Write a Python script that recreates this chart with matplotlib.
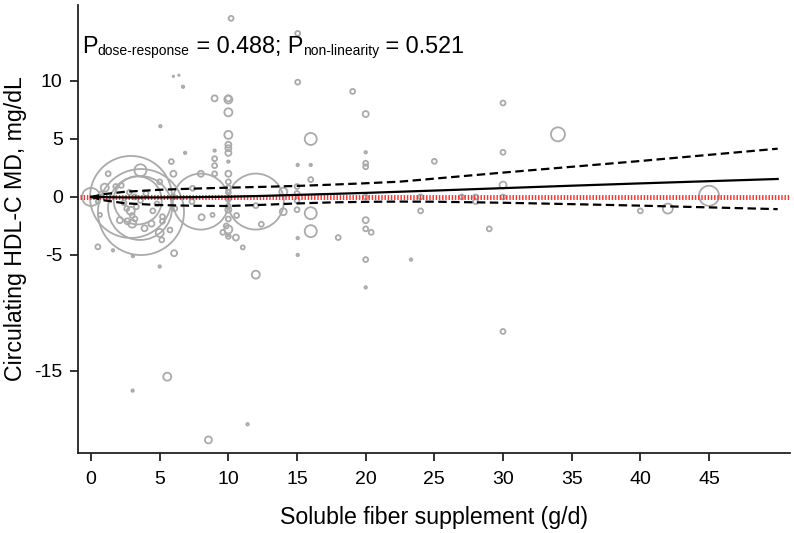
import numpy as np
import matplotlib
matplotlib.use("Agg")
import matplotlib.pyplot as plt
from matplotlib.transforms import offset_copy

plt.rcParams['font.family'] = ['Liberation Sans', 'DejaVu Sans']

# ---------------- data ----------------
# study-level points: dose (g/d), mean difference (mg/dL), relative weight
study_dose = [0, 2.91, 3.64, 3.57, 3.4, 8.0, 12.0,
              3.6, 1.0, 16.0, 16.0, 16.0, 34.0, 45.0, 42.0, 12.0, 5.55, 8.55,
              10.0, 10.0, 10.0, 10.0, 14.0, 14.0, 30.0, 10.0, 3.0, 2.9, 5.0,
              10.2, 15.05, 15.05, 19.05, 20.0, 9.0, 6.0, 8.0, 1.25, 5.85, 0.5,
              6.05, 8.05, 7.35, 9.6, 10.55, 10.0, 12.4, 12.0, 15.0, 15.0, 15.0,
              15.0, 16.0, 18.0, 20.0, 20.0, 20.0, 20.0, 20.0, 20.4, 20.0, 24.0,
              24.0, 25.0, 27.0, 28.0, 28.0, 29.0, 30.0, 30.0, 30.0, 30.0, 40.0,
              10.0, 10.0, 10.0, 10.0, 10.0, 10.0, 10.0, 10.0, 10.0, 10.0, 10.0,
              9.0, 9.0, 9.0, 8.85, 6.1, 5.2, 5.2, 5.75, 5.15, 5.0, 2.1, 2.65,
              3.9, 2.6, 3.3, 0.65, 0.5, 0.75, 7.4, 9.85, 11.05, 10.6, 2.8, 3.2,
              3.6, 2.4, 4.0, 3.0, 4.5, 4.4, 6.0, 3.2, 1.8, 4.8, 2.2,
              6.7, 5.05, 6.85, 9.0, 10.0, 1.6, 3.05, 5.0, 20.0, 3.03, 11.4,
              15.05, 16.0, 15.05, 15.05, 20.0, 23.3, 10.0, 6.0, 6.4]
study_md = [0, 0.0, -1.3, -0.95, -0.3, -0.4, -0.4,
            2.3, 0.8, 5.0, -1.4, -2.95, 5.4, 0.1, -1.0, -6.7, -15.5, -20.95,
            5.35, 7.3, 8.4, 8.5, 0.45, -1.27, 1.03, -2.8, -2.3, -1.2, -3.1,
            15.4, 14.1, 9.9, 9.1, 7.15, 8.5, 2.0, 2.0, 2.0, 3.05, -4.3,
            -4.85, -1.75, -0.4, -3.05, -3.5, -3.4, -2.35, -0.75, 0.9, 0.3, -0.3,
            -1.1, 1.5, -3.5, 2.9, 2.6, 0.0, -2.0, -2.75, -3.05, -5.4, 0.0,
            -1.2, 3.07, 0.0, 0.0, -0.4, -2.75, 8.1, 3.85, 0.0, -11.6, -1.2,
            4.5, 4.2, 3.8, 2.0, 1.3, 0.8, 0.4, -0.2, -0.8, -1.1, -1.9,
            3.3, 2.7, 2.0, -1.55, -1.0, -1.7, -2.1, -2.85, -3.7, 1.3, -2.0, -2.1,
            -2.7, -1.0, -0.85, -1.55, -0.4, 0.3, 0.75, -2.5, -4.35, -1.6, 0.4, 0.0,
            -0.3, -0.5, 0.3, -1.6, -1.2, -2.3, 0.0, -1.9, 0.9, -0.6, 1.0,
            9.5, 6.1, 3.8, 4.0, 3.05, -4.6, -5.1, -6.0, -7.8, -16.7, -19.6,
            2.76, 2.76, -3.55, -5.0, 3.85, -5.4, -3.3, 10.4, 10.5]
study_weight = [81, 1681, 1849, 1024, 576, 784, 784,
                36, 16, 36, 36, 36, 49, 100, 25, 16, 16, 12,
                16, 16, 16, 9, 16, 12, 12, 16, 16, 16, 16,
                6, 6, 6, 6, 9, 9, 9, 9, 6, 6, 6,
                9, 9, 6, 6, 9, 6, 6, 6, 6, 6, 6,
                6, 6, 6, 6, 6, 6, 9, 6, 6, 6, 6,
                6, 6, 6, 6, 6, 6, 6, 6, 6, 6, 6,
                9, 9, 9, 9, 6, 6, 6, 6, 6, 9, 6,
                6, 6, 6, 4, 6, 6, 6, 6, 6, 6, 9, 9,
                9, 6, 6, 4, 4, 4, 6, 6, 4, 6, 6, 6,
                6, 6, 6, 6, 6, 9, 6, 6, 6, 6, 6,
                1.5, 1.5, 1.5, 1.5, 1.5, 1.5, 1.5, 1.5, 1.5, 1.5, 1.5,
                1.5, 1.5, 1.5, 1.5, 1.5, 1.5, 1.5, 0.5, 0.5]

# pooled dose-response curve with 95% CI
curve_dose = [0, 1, 2.5, 5, 7.5, 10, 12.5, 15, 17.5, 20, 22.5, 25, 30, 35, 40, 45, 50]
curve_md   = [0, -0.02, -0.04, -0.04, -0.02, 0.02, 0.09, 0.18, 0.26, 0.35, 0.45, 0.55, 0.76, 0.97, 1.17, 1.36, 1.55]
curve_lo   = [0, -0.3, -0.55, -0.7, -0.76, -0.78, -0.68, -0.56, -0.47, -0.42, -0.4, -0.41, -0.5, -0.62, -0.75, -0.9, -1.05]
curve_hi   = [0, 0.25, 0.45, 0.62, 0.72, 0.8, 0.87, 0.95, 1.06, 1.18, 1.32, 1.58, 2.1, 2.6, 3.1, 3.63, 4.16]

ref_line = [-0.8, 51]
xticks = [0, 5, 10, 15, 20, 25, 30, 35, 40, 45]
yticks = [10, 5, 0, -5, -15]
annot_pieces = ['P', 'dose-response', ' = 0.488; P', 'non-linearity', ' = 0.521']

# ---------------- plot ----------------
fig = plt.figure(figsize=(7.94, 5.33), dpi=100)
ax = fig.add_axes([0.0982, 0.1507, 0.8968, 0.8399])

px2pt = 72 / 100
sizes = [w * (2 * px2pt) ** 2 for w in study_weight]
ax.scatter(study_dose, study_md, s=sizes, facecolors='none', edgecolors='#aaaaaa',
           linewidths=1.3, zorder=2)

ax.plot(ref_line, [0, 0], color='#ff3030', lw=3.6, linestyle=(0, (0.28, 0.36)),
        dash_capstyle='butt', zorder=3)
ax.plot(curve_dose, curve_md, color='black', lw=1.6, zorder=4)
ax.plot(curve_dose, curve_lo, color='black', lw=1.6, linestyle=(0, (3.8, 2.0)), zorder=4)
ax.plot(curve_dose, curve_hi, color='black', lw=1.6, linestyle=(0, (3.8, 2.0)), zorder=4)

ax.set_xlim(-0.95, 50.9)
ax.set_ylim(-22.05, 16.55)
ax.set_xticks(xticks)
ax.set_yticks(yticks)
ax.set_yticklabels([str(t) for t in yticks])
for s in ['top', 'right']:
    ax.spines[s].set_visible(False)
for s in ['left', 'bottom']:
    ax.spines[s].set_linewidth(1.3)
    ax.spines[s].set_color('#222222')
ax.tick_params(axis='both', direction='out', length=6, width=1.3, color='#222222',
               labelsize=14, pad=5)
ax.tick_params(axis='x', pad=7)
ax.set_xlabel('Soluble fiber supplement (g/d)', fontsize=16.7, labelpad=13)
ax.set_ylabel('Circulating HDL-C MD, mg/dL', fontsize=16.7, labelpad=5)

# annotation with subscripts, built from consecutive text pieces
renderer = fig.canvas.get_renderer()
x_off = 0.0
for i, piece in enumerate(annot_pieces):
    is_sub = (i % 2 == 1)
    fs = 10 if is_sub else 16.8
    dy = -1.0 if is_sub else 0.0
    tr = offset_copy(ax.transAxes, fig=fig, x=x_off, y=dy, units='points')
    t = ax.text(0.006, 0.892, piece, transform=tr, fontsize=fs,
                va='baseline', ha='left')
    x_off += t.get_window_extent(renderer).width * 72 / fig.dpi

fig.savefig('out.png', dpi=100)
